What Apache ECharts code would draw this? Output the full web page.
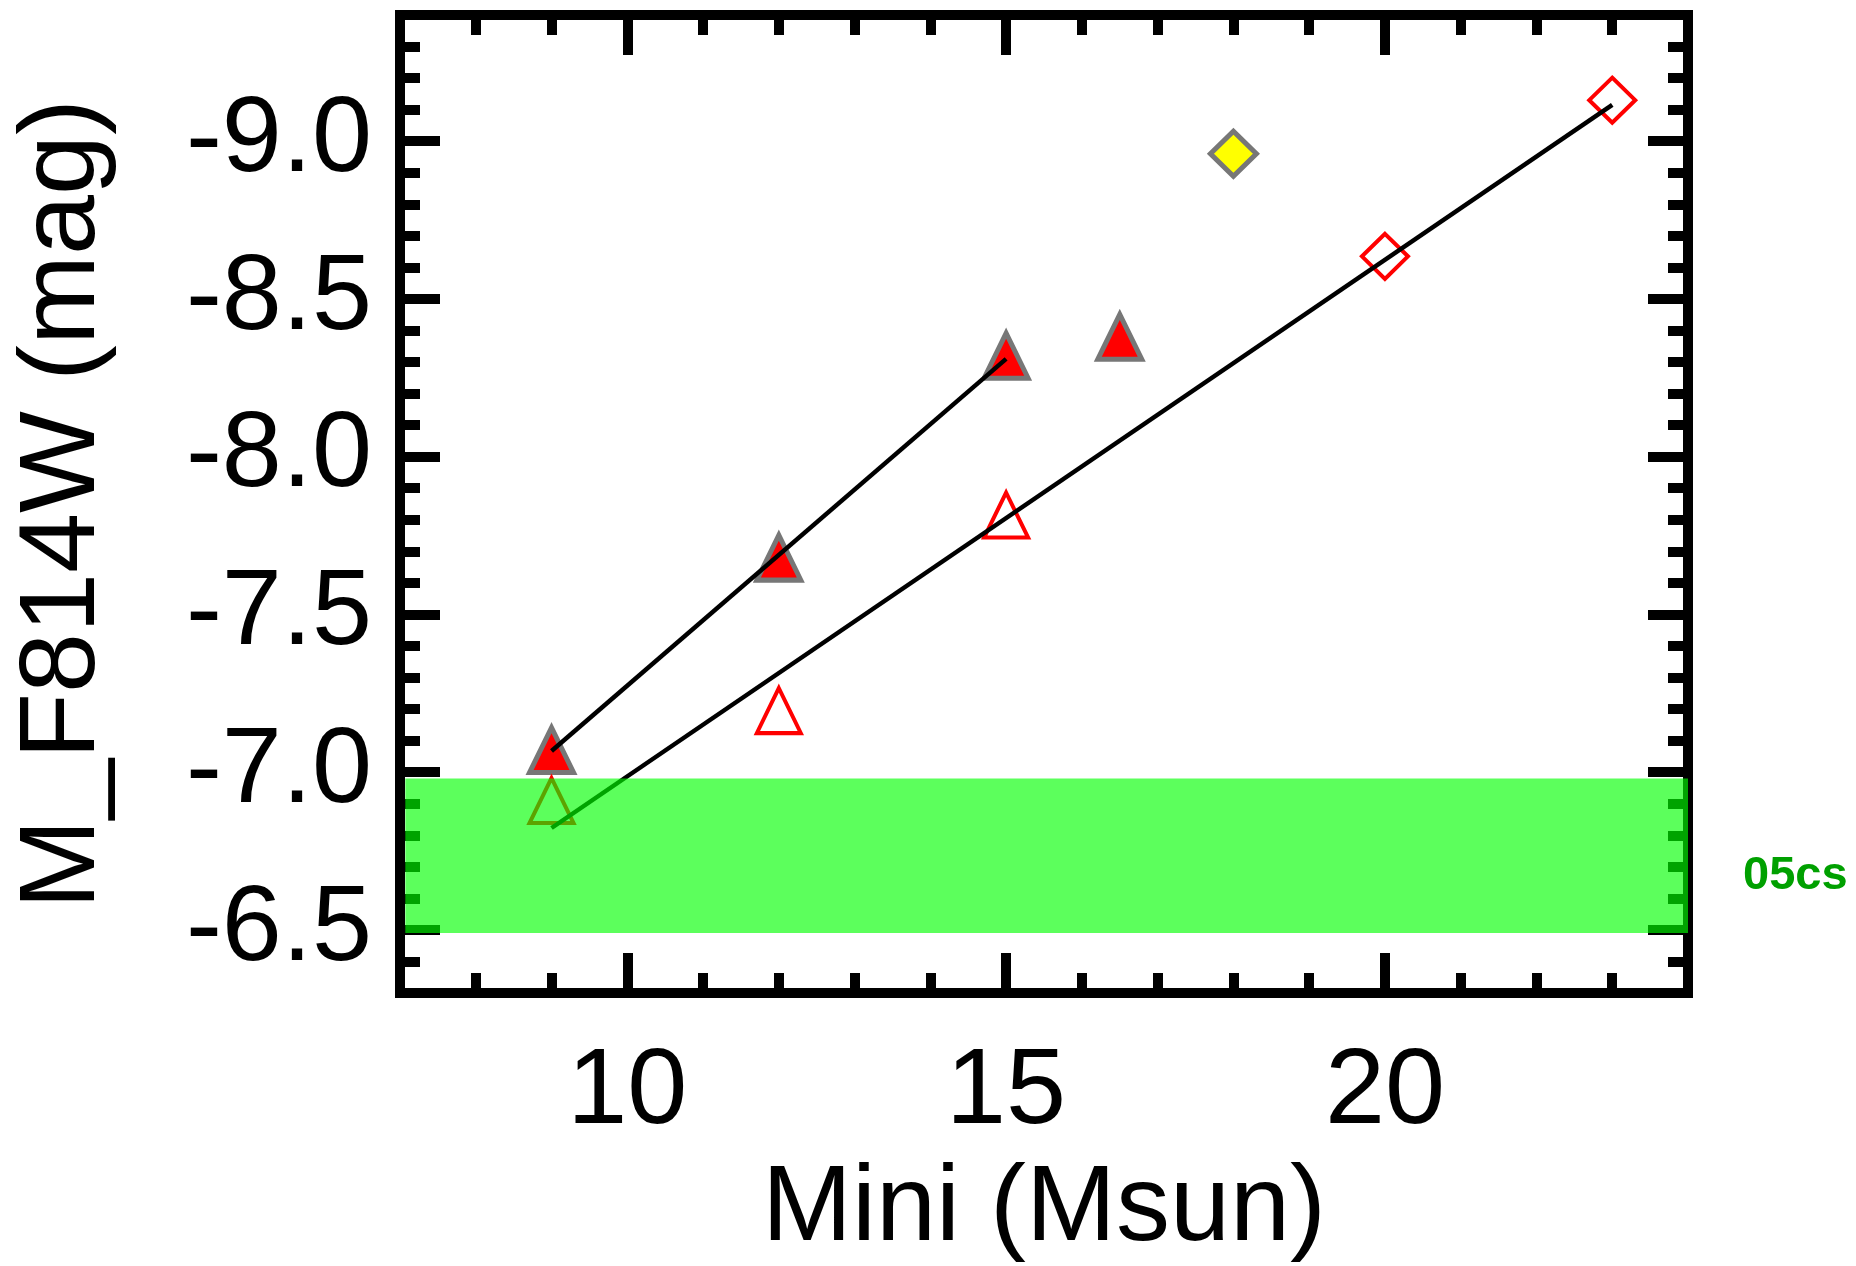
<!DOCTYPE html>
<html>
<head>
<meta charset="utf-8">
<script src="https://cdn.jsdelivr.net/npm/echarts@6/dist/echarts.min.js"></script>
<style>
  html, body { margin: 0; padding: 0; background: #ffffff; }
  #chart { width: 1856px; height: 1266px; }
</style>
</head>
<body>
<div id="chart"></div>
<script>
// Initial mass (Msun) against absolute F814W magnitude
const filledTriMass = [9, 12, 15, 16.5];
const filledTriMag = [-7.07, -7.68, -8.32, -8.38];
const openTriMass = [9, 12, 15];
const openTriMag = [-6.91, -7.195, -7.815];
const openDiamondMass = [20, 23];
const openDiamondMag = [-8.635, -9.13];
const yellowDiamondMass = [18];
const yellowDiamondMag = [-8.96];

// Linear fits, given by their end points
const fitAMass = [9, 15];
const fitAMag = [-7.067, -8.31];
const fitBMass = [9, 23];
const fitBMag = [-6.823, -9.115];

// Shaded magnitude range and its tag
const bandMass = [7.07, 24];
const bandMag = [-6.98, -6.49];
const bandLabel = '05cs';

// Axis ranges and labelled ticks
const xRange = [7, 24];
const yRange = [-9.4, -6.3];
const xMajorTicks = [10, 15, 20];
const yMajorTicks = [-9.0, -8.5, -8.0, -7.5, -7.0, -6.5];

const FONT = "'Liberation Sans', Arial, Helvetica, sans-serif";
const INK = '#000000';

function zip(xs, ys) { return xs.map((x, i) => [x, ys[i]]); }

function xAxisDef(position, major, withText) {
  const ax = {
    type: 'value', position: position, min: xRange[0], max: xRange[1], interval: 1,
    splitLine: { show: false },
    axisLine: { show: !major, lineStyle: { color: INK, width: 10, cap: 'square' } },
    axisTick: { show: true, inside: true, length: major ? 40 : 20, lineStyle: { color: INK, width: 10 } },
    axisLabel: { show: false }
  };
  if (major) ax.axisTick.customValues = xMajorTicks;
  if (withText) {
    ax.axisLabel = {
      show: true, customValues: xMajorTicks, margin: 46,
      fontSize: 108, fontFamily: FONT, color: INK,
      formatter: v => String(v)
    };
    ax.name = 'Mini (Msun)';
    ax.nameLocation = 'middle';
    ax.nameGap = 163;
    ax.nameTextStyle = { fontSize: 108, fontFamily: FONT, color: INK };
  }
  return ax;
}

function yAxisDef(position, major, withText) {
  const ax = {
    type: 'value', position: position, min: yRange[0], max: yRange[1], interval: 0.1, inverse: true,
    splitLine: { show: false },
    axisLine: { show: !major, lineStyle: { color: INK, width: 10, cap: 'square' } },
    axisTick: { show: true, inside: true, length: major ? 40 : 20, lineStyle: { color: INK, width: 10 } },
    axisLabel: { show: false }
  };
  if (major) ax.axisTick.customValues = yMajorTicks;
  if (withText) {
    ax.axisLabel = {
      show: true, customValues: yMajorTicks, margin: 28,
      fontSize: 108, fontFamily: FONT, color: INK,
      formatter: v => Number(v).toFixed(1)
    };
    ax.name = 'M_F814W (mag)';
    ax.nameLocation = 'middle';
    ax.nameRotate = 90;
    ax.nameGap = 282;
    ax.nameTextStyle = { fontSize: 108, fontFamily: FONT, color: INK };
  }
  return ax;
}

const chart = echarts.init(document.getElementById('chart'), null, { renderer: 'canvas' });

chart.setOption({
  animation: false,
  backgroundColor: '#ffffff',
  grid: { left: 400, right: 168, top: 15, bottom: 273, containLabel: false, outerBoundsMode: 'none' },
  xAxis: [
    xAxisDef('bottom', false, true),
    xAxisDef('bottom', true, false),
    xAxisDef('top', false, false),
    xAxisDef('top', true, false)
  ],
  yAxis: [
    yAxisDef('left', false, true),
    yAxisDef('left', true, false),
    yAxisDef('right', false, false),
    yAxisDef('right', true, false)
  ],
  series: [
    {
      type: 'scatter', z: 2, xAxisIndex: 0, yAxisIndex: 0,
      data: zip(filledTriMass, filledTriMag),
      symbol: 'triangle', symbolSize: [44, 45],
      itemStyle: { color: '#ff0000', borderColor: '#777777', borderWidth: 5, opacity: 1 }
    },
    {
      type: 'scatter', z: 2, xAxisIndex: 0, yAxisIndex: 0,
      data: zip(openTriMass, openTriMag),
      symbol: 'triangle', symbolSize: [44, 45],
      itemStyle: { color: 'rgba(255,255,255,0)', borderColor: '#ff0000', borderWidth: 4, opacity: 1 }
    },
    {
      type: 'scatter', z: 2, xAxisIndex: 0, yAxisIndex: 0,
      data: zip(openDiamondMass, openDiamondMag),
      symbol: 'diamond', symbolSize: [46, 45],
      itemStyle: { color: 'rgba(255,255,255,0)', borderColor: '#ff0000', borderWidth: 4, opacity: 1 }
    },
    {
      type: 'scatter', z: 2, xAxisIndex: 0, yAxisIndex: 0,
      data: zip(yellowDiamondMass, yellowDiamondMag),
      symbol: 'diamond', symbolSize: [46, 45],
      itemStyle: { color: '#ffff00', borderColor: '#777777', borderWidth: 5, opacity: 1 }
    },
    {
      type: 'line', z: 3, xAxisIndex: 0, yAxisIndex: 0,
      data: zip(fitAMass, fitAMag),
      showSymbol: false, symbol: 'none',
      lineStyle: { color: INK, width: 4.5 }
    },
    {
      type: 'line', z: 3, xAxisIndex: 0, yAxisIndex: 0,
      data: zip(fitBMass, fitBMag),
      showSymbol: false, symbol: 'none',
      lineStyle: { color: INK, width: 4.5 }
    },
    {
      type: 'custom', z: 10, xAxisIndex: 0, yAxisIndex: 0,
      coordinateSystem: 'cartesian2d',
      data: [[bandMass[0], bandMag[0], bandMass[1], bandMag[1]]],
      encode: { x: [0, 2], y: [1, 3] },
      renderItem: function (params, api) {
        const p0 = api.coord([api.value(0), api.value(1)]);
        const p1 = api.coord([api.value(2), api.value(3)]);
        const x0 = Math.min(p0[0], p1[0]);
        const y0 = Math.min(p0[1], p1[1]);
        const w = Math.abs(p1[0] - p0[0]);
        const h = Math.abs(p1[1] - p0[1]);
        return {
          type: 'group',
          children: [
            { type: 'rect', shape: { x: x0, y: y0, width: w, height: h },
              style: { fill: 'rgba(0,255,0,0.64)' } },
            { type: 'text', x: x0 + w + 55, y: y0 + h / 2 + 20,
              style: { text: bandLabel, fill: '#00a000', font: 'bold 47px ' + FONT,
                       textAlign: 'left', textVerticalAlign: 'middle' } }
          ]
        };
      }
    }
  ]
});
</script>
</body>
</html>
